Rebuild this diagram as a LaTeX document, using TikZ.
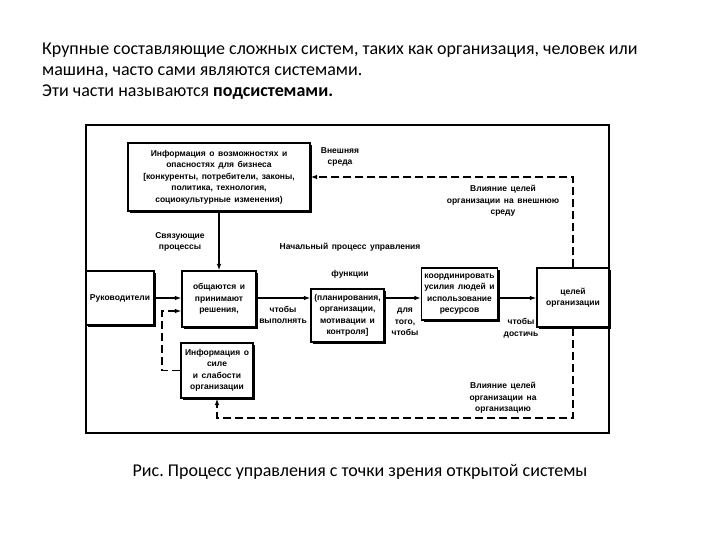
\documentclass[tikz,border=0pt]{standalone}
\usepackage{fontspec}
\setmainfont{Carlito}
\newfontfamily\dfont{Liberation Sans}[WordSpace=1.5]
\usetikzlibrary{arrows.meta,shadows}
\frenchspacing
\begin{document}
\begin{tikzpicture}[x=1pt,y=-1pt,
  dtext/.style={font=\dfont\bfseries\fontsize{8.5}{11.5}\selectfont},
  box/.style={dtext,draw,line width=1.2pt,fill=white,inner sep=1pt,align=center,
    drop shadow={shadow xshift=2pt,shadow yshift=-2pt,fill=black,opacity=1}},
  lbl/.style={dtext,align=center,inner sep=0pt},
  arr/.style={line width=1.1pt,-{Latex[length=6.5pt,width=4.5pt]}},
  dsh/.style={line width=1.1pt,dash pattern=on 8pt off 4pt},
  hdr/.style={anchor=base west,inner sep=0pt,font=\fontsize{18}{21}\selectfont}]
\useasboundingbox (0,0) rectangle (720,540);
% header
\node[hdr] (h1) at (42,55) {Крупные составляющие сложных систем, таких как организация, человек или};
\node[hdr] (h2) at (42,76) {машина, часто сами являются системами.};
\node[hdr] (h3) at (42,97) {Эти части называются \textbf{подсистемами.}};
% frame
\node[draw,line width=1.2pt,minimum width=523pt,minimum height=308pt,inner sep=0pt] (frame) at (347.5,279) {};
% boxes
\node[box,minimum width=182pt,minimum height=68pt] (env) at (219,177) {Информация о возможностях и\\опасностях для бизнеса\\{[}конкуренты, потребители, законы,\\политика, технология,\\социокультурные изменения)};
\node[box,minimum width=68pt,minimum height=54pt] (mgr) at (120,298) {Руководители};
\node[box,minimum width=74pt,minimum height=56pt] (comm) at (219,299) {общаются и\\принимают\\решения,};
\node[box,minimum width=73pt,minimum height=53pt] (plan) at (347.5,315.5) {(планирования,\\организации,\\мотивации и\\контроля]};
\node[box,minimum width=76pt,minimum height=52pt] (coord) at (459.5,294) {координировать\\усилия людей и\\использование\\ресурсов};
\node[box,minimum width=72pt,minimum height=59pt] (goal) at (573,297.5) {целей\\организации};
\node[box,minimum width=72pt,minimum height=55pt] (intl) at (217,370.5) {Информация о\\силе\\и слабости\\организации};
% labels
\node[lbl] (ext) at (340,157) {Внешняя\\среда};
\node[lbl] (inf1) at (503,201) {Влияние целей\\организации на внешнюю\\среду};
\node[lbl] (link) at (180,242) {Связующие\\процессы};
\node[lbl] (init) at (350,247) {Начальный процесс управления};
\node[lbl] (func) at (350,274) {функции};
\node[lbl] (perf) at (283,315) {чтобы\\выполнять};
\node[lbl] (so) at (405,322) {для\\того,\\чтобы};
\node[lbl] (reach) at (521,328) {чтобы\\достичь};
\node[lbl] (inf2) at (503,398) {Влияние целей\\организации на\\организацию};
% connectors
\coordinate (row) at (0,298);
\coordinate (fb) at (162,311);
\coordinate (bot) at (0,418);
\draw[arr] (env.south) -- (comm.north);
\draw[arr] (mgr.east) -- (mgr.east -| comm.west);
\draw[arr] (comm.east |- row) -- (plan.west |- row);
\draw[arr] (plan.east |- row) -- (coord.west |- row);
\draw[arr] (coord.east |- row) -- (goal.west |- row);
\draw[dsh,arr] (intl.west) -| (fb) -- (fb -| comm.west);
\draw[dsh,arr] (goal.north) |- (env.east);
\draw[dsh,arr] (goal.south) |- (intl.south |- bot) -- (intl.south);
% caption
\node[anchor=base,inner sep=0pt,font=\fontsize{18}{21}\selectfont] (cap) at (360,476) {Рис. Процесс управления с точки зрения открытой системы};
\end{tikzpicture}
\end{document}
